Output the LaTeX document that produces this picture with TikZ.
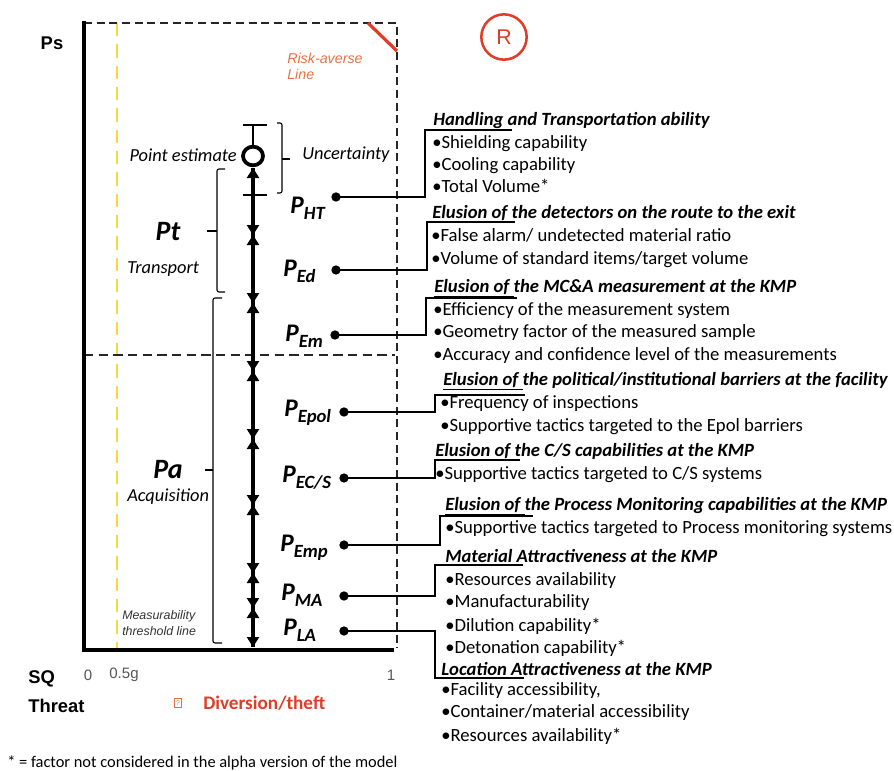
\documentclass[tikz,border=0pt]{standalone}
\usepackage{fontspec}
\setmainfont{Carlito}
\newfontfamily\arialfont{Liberation Sans}
\usetikzlibrary{arrows.meta,shapes.geometric}

\definecolor{riskred}{RGB}{222,62,40}
\definecolor{riskorange}{RGB}{232,112,72}
\definecolor{threshyellow}{RGB}{244,218,60}
\definecolor{tickgray}{RGB}{85,85,85}

\begin{document}
\begin{tikzpicture}[x=0.75pt,y=-0.75pt,
  axis/.style={line width=3pt,black},
  framedash/.style={line width=0.9pt,black!85,dash pattern=on 6pt off 3.5pt},
  middash/.style={line width=0.9pt,black!85,dash pattern=on 7pt off 4pt},
  yellowdash/.style={line width=0.8pt,threshyellow,dash pattern=on 10pt off 6pt},
  spine/.style={line width=2.6pt,black},
  chainseg/.style={draw=black,line width=2.6pt,{Triangle[width=9pt,length=7.5pt]}-{Triangle[width=9pt,length=7.5pt]}},
  thinline/.style={line width=0.8pt,black},
  brace/.style={line width=0.8pt,black,rounded corners=1.5pt},
  link/.style={line width=0.9pt,black},
  dotnode/.style={circle,fill=black,inner sep=0pt,minimum size=7pt},
  txt/.style={anchor=base west,inner sep=0pt,font=\fontsize{14}{16}\selectfont},
  head/.style={anchor=base west,inner sep=0pt,font=\fontsize{14}{16}\selectfont\bfseries\itshape},
  plab/.style={anchor=base west,inner sep=0pt,font=\fontsize{19}{21}\selectfont\bfseries\itshape},
  itl/.style={inner sep=0pt,font=\fontsize{13.8}{16}\selectfont\itshape},
  big/.style={inner sep=0pt,font=\fontsize{21}{24}\selectfont\bfseries\itshape},
  axlab/.style={inner sep=0pt,font=\arialfont\fontsize{13.8}{15}\selectfont\bfseries},
  ticklab/.style={inner sep=0pt,text=tickgray,font=\arialfont\fontsize{11.3}{12}\selectfont}
]
\newcommand{\Psub}[1]{P\raisebox{-4.5pt}{\fontsize{14}{15}\selectfont #1}}
\useasboundingbox (0,0) rectangle (894,771);

% ---------- frame of the Ps / SQ plot ----------
\draw[yellowdash] (117,23) -- (117,648);
\draw[framedash] (84,23) -- (397,23) -- (397,648);
\draw[middash] (84,355) -- (395,355);
\draw[line width=2.4pt,riskred] (368,23) -- (397,51);
\draw[axis] (84,21) -- (84,649.5) -- (394,649.5);

% ---------- risk-averse label and R marker ----------
\node[inner sep=0pt,anchor=west,text=riskorange,font=\arialfont\fontsize{10.7}{12}\selectfont\itshape] (risk1) at (287,58) {Risk-averse};
\node[inner sep=0pt,anchor=west,text=riskorange,font=\arialfont\fontsize{10.7}{12}\selectfont\itshape] (risk2) at (287,74) {Line};
\node[circle,draw=riskred,line width=1.9pt,minimum size=34pt,inner sep=0pt,text=riskred,font=\arialfont\fontsize{16}{18}\selectfont] (rmark) at (504,37) {R};

% ---------- axis labels ----------
\node[axlab] (ps) at (52,43) {Ps};
\node[axlab,anchor=west] (sq) at (28,679) {SQ};
\node[axlab,anchor=west] (threat) at (28,706) {Threat};
\node[ticklab] (t0) at (88,675) {0};
\node[ticklab] (t05) at (124,675) {0.5g};
\node[ticklab] (t1) at (391,675) {1};
\node[draw=riskorange,line width=0.5pt,minimum width=5.5pt,minimum height=7pt,inner sep=0pt,text=riskorange,font=\arialfont\fontsize{5}{5}\selectfont] (glyph) at (178,703) {?};
\node[anchor=west,inner sep=0pt,text=riskred,font=\fontsize{14.4}{16}\selectfont\bfseries] (threatval) at (203,703) {Diversion/theft};

% ---------- point estimate with its uncertainty ----------
\node[ellipse,draw=black,line width=2.8pt,minimum width=15pt,minimum height=14pt,inner sep=0pt] (est) at (253,156) {};
\coordinate (utop) at (253,125);
\draw[thinline] (243,125) -- (267,125);
\draw[thinline] (243,195) -- (267,195);
\draw[thinline] (utop) -- (est.north);
\draw[brace] (277,123) -- (282,123) -- (282,193) -- (277,193);
\draw[thinline] (282,159) -- (290,159);
\node[itl,anchor=east] (pe) at (237,155) {Point estimate};
\node[itl,anchor=west] (unc) at (302,155) {Uncertainty};

% ---------- chain of conditional probabilities ----------
\coordinate (b0) at (253,168);
\coordinate (b1) at (253,235);
\coordinate (b2) at (253,303);
\coordinate (b3) at (253,371);
\coordinate (b4) at (253,439);
\coordinate (b5) at (253,505);
\coordinate (b6) at (253,573);
\coordinate (b7) at (253,608);
\coordinate (b8) at (253,647);
\draw[spine] (b0) -- (b8);
\draw[chainseg] (b0) -- (b1);
\draw[chainseg] (b1) -- (b2);
\draw[chainseg] (b2) -- (b3);
\draw[chainseg] (b3) -- (b4);
\draw[chainseg] (b4) -- (b5);
\draw[chainseg] (b5) -- (b6);
\draw[chainseg] (b6) -- (b7);
\draw[chainseg] (b7) -- (b8);

% ---------- transport and acquisition groups ----------
\draw[brace] (225,169) -- (217,169) -- (217,292) -- (225,292);
\draw[thinline] (217,231) -- (207,231);
\draw[brace] (222,298) -- (213,298) -- (213,643) -- (222,643);
\draw[thinline] (213,470) -- (205,470);
\node[big] (pt) at (168,232) {Pt};
\node[itl,anchor=west] (transport) at (127,269) {Transport};
\node[big] (pa) at (168,470) {Pa};
\node[itl,anchor=west] (acq) at (127,497) {Acquisition};
\node[inner sep=0pt,anchor=west,text=black!80,font=\arialfont\fontsize{9.3}{10}\selectfont\itshape] (meas1) at (122,616) {Measurability};
\node[inner sep=0pt,anchor=west,text=black!80,font=\arialfont\fontsize{9.3}{10}\selectfont\itshape] (meas2) at (122,631) {threshold line};

% ---------- probability labels and their dots ----------
\node[plab] (lHT) at (290,213) {\Psub{HT}};
\node[plab] (lEd) at (283,276) {\Psub{Ed}};
\node[plab] (lEm) at (285,341) {\Psub{Em}};
\node[plab] (lEpol) at (284,416) {\Psub{Epol}};
\node[plab] (lECS) at (282,482) {\Psub{EC/S}};
\node[plab] (lEmp) at (280,551) {\Psub{Emp}};
\node[plab] (lMA) at (281,600) {\Psub{MA}};
\node[plab] (lLA) at (283,635) {\Psub{LA}};

\node[dotnode] (dHT) at (336,197) {};
\node[dotnode] (dEd) at (336,270) {};
\node[dotnode] (dEm) at (335,335) {};
\node[dotnode] (dEpol) at (344,412) {};
\node[dotnode] (dECS) at (344,478) {};
\node[dotnode] (dEmp) at (344,545) {};
\node[dotnode] (dMA) at (344,596) {};
\node[dotnode] (dLA) at (344,631) {};

% ---------- factor lists ----------
\node[head] (hHT) at (433,125) {\underline{Handling} and Transportation ability};
\node[txt] (HT1) at (432,148) {•Shielding capability};
\node[txt] (HT2) at (432,170) {•Cooling capability};
\node[txt] (HT3) at (432,192) {•Total Volume*};

\node[head] (hEd) at (432,218) {\underline{Elusion of\ }the detectors on the route to the exit};
\node[txt] (Ed1) at (431,241) {•False alarm/ undetected material ratio};
\node[txt] (Ed2) at (431,264) {•Volume of standard items/target volume};

\node[head] (hEm) at (434,292) {\underline{Elusion of\ }the MC\&A measurement at the KMP};
\node[txt] (Em1) at (433,315) {•Efficiency of the measurement system};
\node[txt] (Em2) at (433,337) {•Geometry factor of the measured sample};
\node[txt] (Em3) at (433,360) {•Accuracy and confidence level of the measurements};

\node[head] (hEpol) at (443,385) {\underline{Elusion of\ }the political/institutional barriers at the facility};
\node[txt] (Epol1) at (440,408) {•Frequency of inspections};
\node[txt] (Epol2) at (440,431) {•Supportive tactics targeted to the Epol barriers};

\node[head] (hECS) at (435,456) {\underline{Elusion of\ }the C/S capabilities at the KMP};
\node[txt] (ECS1) at (435,479) {•Supportive tactics targeted to C/S systems};

\node[head] (hEmp) at (445,510) {\underline{Elusion of\ }the Process Monitoring capabilities at the KMP};
\node[txt] (Emp1) at (445,533) {•Supportive tactics targeted to Process monitoring systems};

\node[head] (hMA) at (445,562) {\underline{Material\ }Attractiveness at the KMP};
\node[txt] (MA1) at (445,585) {•Resources availability};
\node[txt] (MA2) at (445,607) {•Manufacturability};
\node[txt] (MA3) at (445,631) {•Dilution capability*};
\node[txt] (MA4) at (445,653) {•Detonation capability*};

\node[head] (hLA) at (441,675) {\underline{Location\ }Attractiveness at the KMP};
\node[txt] (LA1) at (441,695) {•Facility accessibility,};
\node[txt] (LA2) at (441,717) {•Container/material accessibility};
\node[txt] (LA3) at (441,741) {•Resources availability*};

% ---------- connectors from each probability to its factor list ----------
\coordinate (kHT) at (425,130);   \coordinate (eHT) at (512,130);
\coordinate (kEd) at (427,222);   \coordinate (eEd) at (515,222);
\coordinate (kEm) at (426,298);   \coordinate (eEm) at (517,298);
\coordinate (kEpol) at (435,395); \coordinate (eEpol) at (525,395);
\coordinate (kECS) at (435,460);  \coordinate (eECS) at (520,460);
\coordinate (kEmp) at (440,516);  \coordinate (eEmp) at (533,516);
\coordinate (kMA) at (435,565);   \coordinate (eMA) at (523,565);
\coordinate (kLA) at (435,678);   \coordinate (eLA) at (524,678);
\draw[link] (dHT.center) -| (kHT) -- (eHT);
\draw[link] (dEd.center) -| (kEd) -- (eEd);
\draw[link] (dEm.center) -| (kEm) -- (eEm);
\draw[link] (dEpol.center) -| (kEpol) -- (eEpol);
\draw[link] (dECS.center) -| (kECS) -- (eECS);
\draw[link] (dEmp.center) -| (kEmp) -- (eEmp);
\draw[link] (dMA.center) -| (kMA) -- (eMA);
\draw[link] (dLA.center) -| (kLA) -- (eLA);

% ---------- footnote ----------
\node[inner sep=0pt,anchor=west,font=\fontsize{12.3}{14}\selectfont] (foot) at (7,763) {* = factor not considered in the alpha version of the model};
\end{tikzpicture}
\end{document}
